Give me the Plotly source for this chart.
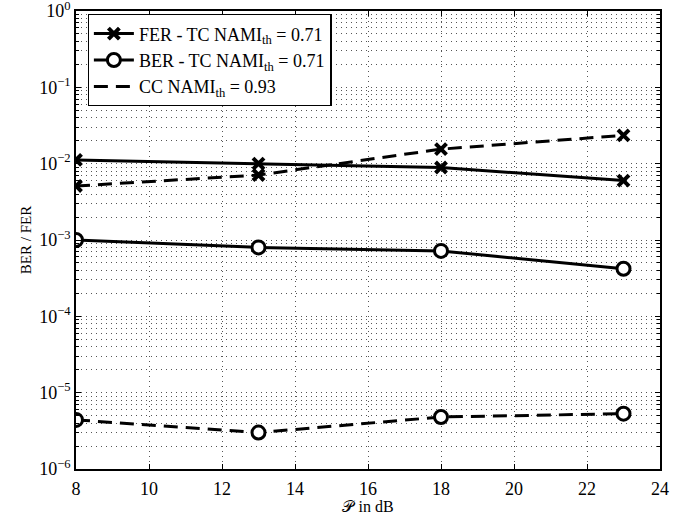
import plotly.graph_objects as go

snr_db = [8, 13, 18, 23]
fer_tc = [1.12e-2, 1.0e-2, 8.9e-3, 6.0e-3]
ber_tc = [1.0e-3, 8.0e-4, 7.2e-4, 4.2e-4]
fer_cc = [5.1e-3, 7.1e-3, 1.55e-2, 2.35e-2]
ber_cc = [4.4e-6, 3.0e-6, 4.8e-6, 5.3e-6]

name_fer_tc = "FER - TC NAMI<sub>th</sub> = 0.71"
name_ber_tc = "BER - TC NAMI<sub>th</sub> = 0.71"
name_cc = "CC NAMI<sub>th</sub> = 0.93"

y_major = [1e-6, 1e-5, 1e-4, 1e-3, 1e-2, 1e-1, 1e0]
y_labels = ["10<sup>−6</sup>", "10<sup>−5</sup>", "10<sup>−4</sup>", "10<sup>−3</sup>",
            "10<sup>−2</sup>", "10<sup>−1</sup>", "10<sup>0</sup>"]
y_minor = [k * d for d in y_major[:-1] for k in range(2, 10)]
x_ticks = [8, 10, 12, 14, 16, 18, 20, 22, 24]

FONT = "Liberation Serif"
LW = 3
DASH = "14px,8px"
GRID_DASH = "1px,4px"
GRID_COLOR = "#555"

x_marker = dict(symbol="x-thin-open", size=11, color="black", line=dict(color="black", width=4))
o_marker = dict(symbol="circle", size=13, color="white", line=dict(color="black", width=3))

fig = go.Figure()
fig.add_trace(go.Scatter(x=snr_db, y=fer_tc, mode="lines+markers", name=name_fer_tc,
                         line=dict(color="black", width=LW), marker=x_marker))
fig.add_trace(go.Scatter(x=snr_db, y=ber_tc, mode="lines+markers", name=name_ber_tc,
                         line=dict(color="black", width=LW), marker=o_marker))
fig.add_trace(go.Scatter(x=[None], y=[None], mode="lines", name=name_cc,
                         line=dict(color="black", width=LW, dash=DASH)))
fig.add_trace(go.Scatter(x=snr_db, y=fer_cc, mode="lines+markers", showlegend=False,
                         line=dict(color="black", width=LW, dash=DASH), marker=x_marker))
fig.add_trace(go.Scatter(x=snr_db, y=ber_cc, mode="lines+markers", showlegend=False,
                         line=dict(color="black", width=LW, dash=DASH), marker=o_marker))

grid = dict(showgrid=True, gridcolor=GRID_COLOR, gridwidth=1, griddash=GRID_DASH)

fig.update_layout(
    width=683, height=515,
    margin=dict(l=76, r=23, t=11, b=46),
    paper_bgcolor="white", plot_bgcolor="white",
    font=dict(family=FONT, size=18, color="black"),
    legend=dict(x=0.02, y=0.993, xanchor="left", yanchor="top",
                bgcolor="white", bordercolor="black", borderwidth=1.2,
                font=dict(family=FONT, size=18), tracegroupgap=0, itemwidth=40),
    xaxis=dict(range=[8, 24], tickmode="array", tickvals=x_ticks, automargin=False,
               ticks="inside", ticklen=5, tickcolor="black", ticklabelstandoff=3,
               ticklabeloverflow="allow",
               showline=True, linecolor="black", linewidth=1.5, mirror="ticks",
               zeroline=False, tickfont=dict(size=18),
               title=dict(text="𝒫 in dB", font=dict(size=16), standoff=0),
               **grid),
    yaxis=dict(type="log", range=[-6, 0], tickmode="array", tickvals=y_major, ticktext=y_labels,
               automargin=False, ticklabeloverflow="allow",
               ticks="inside", ticklen=5, tickcolor="black",
               showline=True, linecolor="black", linewidth=1.5, mirror="allticks",
               zeroline=False, tickfont=dict(size=18),
               title=dict(text="BER / FER", font=dict(size=15), standoff=4),
               minor=dict(tickmode="array", tickvals=y_minor, ticks="inside", ticklen=3,
                          tickcolor="black", showgrid=True, gridcolor=GRID_COLOR,
                          griddash=GRID_DASH, gridwidth=1),
               **grid),
)

fig.write_html("out.html")
